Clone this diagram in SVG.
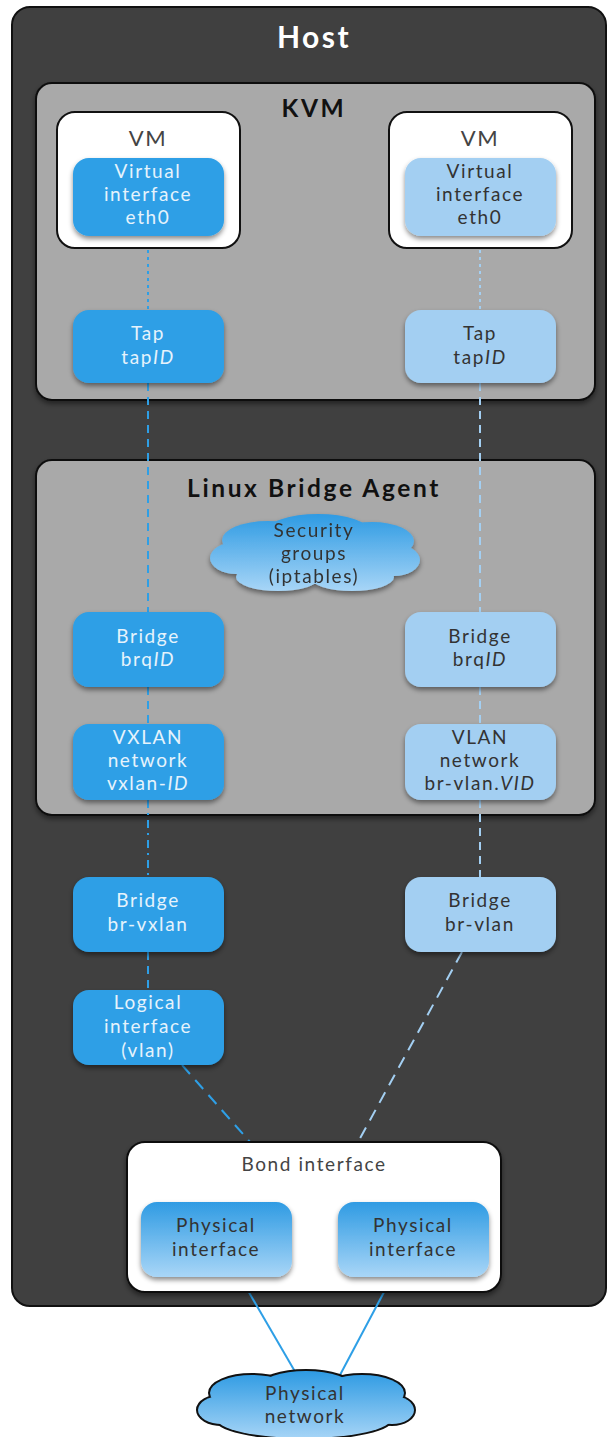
<svg xmlns="http://www.w3.org/2000/svg" width="608" height="1437" viewBox="0 0 608 1437">
<defs>
<filter id="sh" x="-20%" y="-20%" width="140%" height="150%"><feDropShadow dx="0" dy="3" stdDeviation="2.5" flood-color="#000" flood-opacity="0.45"/></filter>
<linearGradient id="gcl" x1="0" y1="0" x2="0" y2="1"><stop offset="0" stop-color="#2f9be3"/><stop offset="1" stop-color="#a9d6f7"/></linearGradient>
<linearGradient id="gsec" gradientUnits="userSpaceOnUse" x1="0" y1="515" x2="0" y2="592"><stop offset="0" stop-color="#2f9be3"/><stop offset="1" stop-color="#a9d6f7"/></linearGradient>
<linearGradient id="gnet" gradientUnits="userSpaceOnUse" x1="0" y1="1372" x2="0" y2="1440"><stop offset="0" stop-color="#2f9be3"/><stop offset="1" stop-color="#a9d6f7"/></linearGradient>
<style>
text{font-family:Lato,"Noto Sans","Open Sans",sans-serif;text-anchor:middle}
.t{font-size:19px;font-weight:400;letter-spacing:1.6px}
.w{fill:#e6f3fc}
.d{fill:#333}
.g{fill:#444}
.hd{font-size:24.5px;font-weight:bold;fill:#111;letter-spacing:2.6px}
.dk{fill:#2e9fe6}
.lt{fill:#a3cff2}
.box{stroke:#111;stroke-width:2}
.cl{stroke:#2e9fe6;stroke-width:2;fill:none}
.cr{stroke:#a3cff2;stroke-width:2;fill:none}
</style>
</defs>

<g id="host">
<rect x="12" y="7" width="594" height="1299" rx="18" fill="#404040" class="box"/>
<text x="314" y="48" style="font-size:30px;font-weight:bold;fill:#fff;letter-spacing:2.5px">Host</text>
</g>

<g id="kvm">
<rect x="36" y="83" width="559" height="317" rx="16" fill="#a9a9a9" class="box" filter="url(#sh)"/>
<text x="314" y="117" class="hd">KVM</text>
</g>

<g id="lba">
<rect x="36" y="460" width="559" height="355" rx="16" fill="#a9a9a9" class="box" filter="url(#sh)"/>
<text x="314" y="497" class="hd">Linux Bridge Agent</text>
</g>

<g id="connectors">
<line x1="148" y1="236" x2="148" y2="310" class="cl" stroke-dasharray="3,4"/>
<line x1="480" y1="236" x2="480" y2="310" class="cr" stroke-dasharray="3,4"/>
<line x1="148" y1="383" x2="148" y2="612" class="cl" stroke-dasharray="8,6"/>
<line x1="480" y1="383" x2="480" y2="612" class="cr" stroke-dasharray="8,6"/>
<line x1="148" y1="687" x2="148" y2="724" class="cl" stroke-dasharray="8,6"/>
<line x1="480" y1="687" x2="480" y2="724" class="cr" stroke-dasharray="8,6"/>
<line x1="148" y1="800" x2="148" y2="877" class="cl" stroke-dasharray="8,5,2,5"/>
<line x1="480" y1="800" x2="480" y2="877" class="cr" stroke-dasharray="8,6"/>
<line x1="148" y1="952" x2="148" y2="990" class="cl" stroke-dasharray="8,6"/>
<line x1="182" y1="1065" x2="250" y2="1142" class="cl" stroke-dasharray="12,8"/>
<line x1="462" y1="952" x2="358" y2="1142" class="cr" stroke-dasharray="12,8"/>
<line x1="240" y1="1277" x2="297" y2="1375" class="cl"/>
<line x1="392" y1="1277" x2="340" y2="1375" class="cl"/>
</g>

<g id="vm-left">
<rect x="57" y="112" width="183" height="136" rx="18" fill="#fff" class="box"/>
<text x="148" y="146" class="t g" style="font-size:22px">VM</text>
</g>
<g id="vif-left">
<rect x="73" y="158" width="151" height="78" rx="16" class="dk" filter="url(#sh)"/>
<text class="t w"><tspan x="148" y="178">Virtual</tspan><tspan x="148" y="201">interface</tspan><tspan x="148" y="224">eth0</tspan></text>
</g>
<g id="vm-right">
<rect x="389" y="112" width="183" height="136" rx="18" fill="#fff" class="box"/>
<text x="480" y="146" class="t g" style="font-size:22px">VM</text>
</g>
<g id="vif-right">
<rect x="405" y="158" width="151" height="78" rx="16" class="lt" filter="url(#sh)"/>
<text class="t d"><tspan x="480" y="178">Virtual</tspan><tspan x="480" y="201">interface</tspan><tspan x="480" y="224">eth0</tspan></text>
</g>

<g id="tap-left">
<rect x="73" y="310" width="151" height="73" rx="16" class="dk" filter="url(#sh)"/>
<text class="t w"><tspan x="148" y="340">Tap</tspan><tspan x="148" y="364">tap<tspan font-style="italic">ID</tspan></tspan></text>
</g>
<g id="tap-right">
<rect x="405" y="310" width="151" height="73" rx="16" class="lt" filter="url(#sh)"/>
<text class="t d"><tspan x="480" y="340">Tap</tspan><tspan x="480" y="364">tap<tspan font-style="italic">ID</tspan></tspan></text>
</g>

<g id="security-groups" filter="url(#sh)">
<g fill="url(#gsec)">
<ellipse cx="268" cy="540" rx="46" ry="19"/>
<ellipse cx="318" cy="532" rx="52" ry="18"/>
<ellipse cx="372" cy="541" rx="42" ry="19"/>
<ellipse cx="236" cy="558" rx="26" ry="16"/>
<ellipse cx="394" cy="560" rx="26" ry="16"/>
<ellipse cx="314" cy="562" rx="92" ry="22"/>
<ellipse cx="278" cy="577" rx="42" ry="14"/>
<ellipse cx="352" cy="577" rx="42" ry="14"/>
</g>
<text class="t d"><tspan x="314" y="537">Security</tspan><tspan x="314" y="560">groups</tspan><tspan x="314" y="583">(iptables)</tspan></text>
</g>

<g id="brq-left">
<rect x="73" y="612" width="151" height="75" rx="16" class="dk" filter="url(#sh)"/>
<text class="t w"><tspan x="148" y="643">Bridge</tspan><tspan x="148" y="666">brq<tspan font-style="italic">ID</tspan></tspan></text>
</g>
<g id="brq-right">
<rect x="405" y="612" width="151" height="75" rx="16" class="lt" filter="url(#sh)"/>
<text class="t d"><tspan x="480" y="643">Bridge</tspan><tspan x="480" y="666">brq<tspan font-style="italic">ID</tspan></tspan></text>
</g>

<g id="vxlan">
<rect x="73" y="724" width="151" height="76" rx="16" class="dk" filter="url(#sh)"/>
<text class="t w"><tspan x="148" y="744">VXLAN</tspan><tspan x="148" y="767">network</tspan><tspan x="148" y="790">vxlan-<tspan font-style="italic">ID</tspan></tspan></text>
</g>
<g id="vlan">
<rect x="405" y="724" width="151" height="76" rx="16" class="lt" filter="url(#sh)"/>
<text class="t d"><tspan x="480" y="744">VLAN</tspan><tspan x="480" y="767">network</tspan><tspan x="480" y="790">br-vlan.<tspan font-style="italic">VID</tspan></tspan></text>
</g>

<g id="br-vxlan">
<rect x="73" y="877" width="151" height="75" rx="16" class="dk" filter="url(#sh)"/>
<text class="t w"><tspan x="148" y="907">Bridge</tspan><tspan x="148" y="931">br-vxlan</tspan></text>
</g>
<g id="br-vlan">
<rect x="405" y="877" width="151" height="75" rx="16" class="lt" filter="url(#sh)"/>
<text class="t d"><tspan x="480" y="907">Bridge</tspan><tspan x="480" y="931">br-vlan</tspan></text>
</g>

<g id="logical">
<rect x="73" y="990" width="151" height="75" rx="16" class="dk" filter="url(#sh)"/>
<text class="t w"><tspan x="148" y="1009">Logical</tspan><tspan x="148" y="1033">interface</tspan><tspan x="148" y="1057">(vlan)</tspan></text>
</g>

<g id="bond">
<rect x="127" y="1142" width="374" height="150" rx="18" fill="#fff" class="box" filter="url(#sh)"/>
<text x="314" y="1171" class="t g">Bond interface</text>
</g>
<g id="phys-left">
<rect x="141" y="1202" width="151" height="75" rx="16" fill="url(#gcl)" filter="url(#sh)"/>
<text class="t d"><tspan x="216" y="1232">Physical</tspan><tspan x="216" y="1256">interface</tspan></text>
</g>
<g id="phys-right">
<rect x="338" y="1202" width="151" height="75" rx="16" fill="url(#gcl)" filter="url(#sh)"/>
<text class="t d"><tspan x="413" y="1232">Physical</tspan><tspan x="413" y="1256">interface</tspan></text>
</g>

<g id="physical-network">
<g stroke="#111" stroke-width="4" fill="#111">
<ellipse cx="252" cy="1393" rx="42" ry="18"/>
<ellipse cx="306" cy="1387" rx="46" ry="16"/>
<ellipse cx="362" cy="1393" rx="42" ry="18"/>
<ellipse cx="222" cy="1410" rx="24" ry="14"/>
<ellipse cx="392" cy="1410" rx="22" ry="14"/>
<ellipse cx="304" cy="1418" rx="88" ry="20"/>
</g>
<g fill="url(#gnet)">
<ellipse cx="252" cy="1393" rx="42" ry="18"/>
<ellipse cx="306" cy="1387" rx="46" ry="16"/>
<ellipse cx="362" cy="1393" rx="42" ry="18"/>
<ellipse cx="222" cy="1410" rx="24" ry="14"/>
<ellipse cx="392" cy="1410" rx="22" ry="14"/>
<ellipse cx="304" cy="1418" rx="88" ry="20"/>
</g>
<text class="t d"><tspan x="305" y="1400">Physical</tspan><tspan x="305" y="1423">network</tspan></text>
</g>
</svg>
